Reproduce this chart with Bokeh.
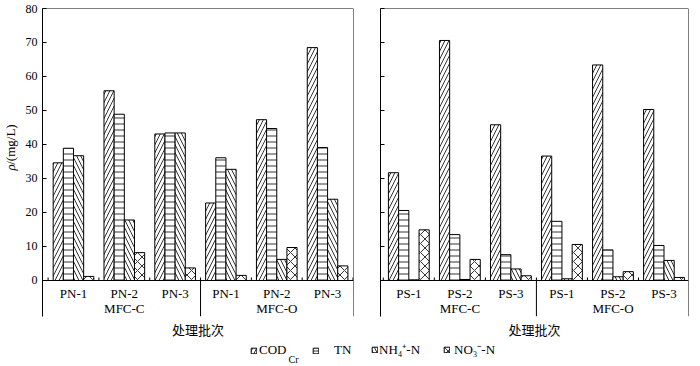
import math
from bokeh.plotting import figure
from bokeh.layouts import column, row
from bokeh.models import (Range1d, FixedTicker, Span, Label, Legend, LegendItem,
                          ColumnDataSource)
from bokeh.transform import dodge
from bokeh.core.properties import value
from bokeh.embed import file_html
from bokeh.resources import INLINE

# ---------------- data ----------------
reactors = ["MFC-C", "MFC-C", "MFC-C", "MFC-O", "MFC-O", "MFC-O"]
pn_batches = ["PN-1", "PN-2", "PN-3", "PN-1", "PN-2", "PN-3"]
ps_batches = ["PS-1", "PS-2", "PS-3", "PS-1", "PS-2", "PS-3"]

pn_cod = [34.6, 55.8, 43.1, 22.8, 47.3, 68.5]
pn_tn = [38.9, 48.9, 43.4, 36.1, 44.7, 39.1]
pn_nh4 = [36.7, 17.8, 43.4, 32.7, 6.2, 23.9]
pn_no3 = [1.2, 8.2, 3.7, 1.5, 9.7, 4.3]

ps_cod = [31.7, 70.6, 45.8, 36.6, 63.4, 50.3]
ps_tn = [20.6, 13.5, 7.6, 17.4, 9.0, 10.3]
ps_nh4 = [0.2, 0.3, 3.4, 0.5, 1.1, 5.9]
ps_no3 = [14.9, 6.2, 1.4, 10.6, 2.6, 0.9]

y_ticks = [0, 10, 20, 30, 40, 50, 60, 70, 80]
series_names = ["COD", "TN", "NH\u2084\u207A-N", "NO\u2083\u207B-N"]
y_title_sym = "ρ"
y_title_unit = "/(mg/L)"
x_title = "处理批次"

# ---------------- styles ----------------
SERIF = "Liberation Serif"
CJK = "Noto Sans CJK SC"
BAR_W = 0.2
hatch_styles = [("/", 8), ("-", 6), ("\\", 8), ("x", 9)]
TOP_H = 342
Y_MIN, Y_MAX = -10.59, 80
LABEL_Y = -3.68
GROUP_Y = -8.38
TICK_LEN = 0.88


def bar_style(k):
    pat, sc = hatch_styles[k]
    return dict(fill_color="white", line_color="black", line_width=1,
                hatch_pattern=pat, hatch_scale=sc, hatch_color="black",
                hatch_weight=0.8)


def blank_fig(w, h, yr):
    f = figure(width=w, height=h, output_backend="svg", toolbar_location=None,
               x_range=Range1d(0, w), y_range=Range1d(0, yr), min_border=0,
               x_axis_type=None, y_axis_type=None)
    f.outline_line_color = None
    f.xgrid.visible = False
    f.ygrid.visible = False
    return f


def make_panel(batches, vals, x_start, x_end, width, bl, br, left_labels):
    p = figure(width=width, height=TOP_H, output_backend="svg", toolbar_location=None,
               x_range=Range1d(x_start, x_end), y_range=Range1d(Y_MIN, Y_MAX),
               min_border_left=bl, min_border_right=br, min_border_top=8,
               min_border_bottom=TOP_H - 316)
    p.outline_line_color = None
    p.xgrid.visible = False
    p.ygrid.visible = False
    p.background_fill_color = "white"
    p.border_fill_color = "white"

    xs = [i + 1 for i in range(len(batches))]
    src = ColumnDataSource(dict(x=xs, batch=batches, s0=vals[0], s1=vals[1],
                                s2=vals[2], s3=vals[3]))
    n = len(vals)
    for k in range(n):
        off = (k - (n - 1) / 2) * BAR_W
        p.vbar(x=dodge("x", off, range=p.x_range), top="s%d" % k, width=BAR_W,
               bottom=0, source=src, **bar_style(k))

    # frame lines
    p.add_layout(Span(location=Y_MAX, dimension="width", line_color="black", line_width=1))
    p.add_layout(Span(location=0, dimension="width", line_color="black", line_width=1))
    p.add_layout(Span(location=x_end, dimension="height", line_color="black", line_width=1))

    # small ticks between batches on the zero line
    tick_x = [x - 0.5 for x in xs] + [xs[-1] + 0.5]
    p.segment(x0=tick_x, y0=[0] * len(tick_x), x1=tick_x, y1=[TICK_LEN] * len(tick_x),
              line_color="black", line_width=1)

    # batch labels
    p.text(x="x", y=LABEL_Y, text="batch", source=src, text_font=value(SERIF),
           text_font_size="13px", text_align="center", text_baseline="middle",
           text_color="black")

    # reactor group labels + separators
    groups = []
    for r in reactors:
        if r not in groups:
            groups.append(r)
    gx = []
    for g in groups:
        members = [x for x, r in zip(xs, reactors) if r == g]
        gx.append(sum(members) / len(members))
    gsrc = ColumnDataSource(dict(x=gx, name=groups))
    p.text(x="x", y=GROUP_Y, text="name", source=gsrc, text_font=value(SERIF),
           text_font_size="13px", text_align="center", text_baseline="middle",
           text_color="black")
    seps = []
    for i in range(1, len(reactors)):
        if reactors[i] != reactors[i - 1]:
            seps.append((xs[i] + xs[i - 1]) / 2)
    p.segment(x0=seps, y0=[0] * len(seps), x1=seps, y1=[Y_MIN] * len(seps),
              line_color="black", line_width=1)

    # y axis
    ax = p.yaxis[0]
    ax.ticker = FixedTicker(ticks=y_ticks)
    ax.major_tick_in = 4
    ax.major_tick_out = 0
    ax.minor_tick_line_color = None
    ax.axis_line_color = "black"
    ax.major_tick_line_color = "black"
    ax.major_label_standoff = 5
    ax.major_label_text_font = SERIF
    ax.major_label_text_font_size = "12px"
    ax.major_label_text_color = "black"
    if not left_labels:
        ax.major_label_overrides = {t: "" for t in y_ticks}

    # x axis: only its title
    xa = p.xaxis[0]
    xa.ticker = FixedTicker(ticks=[])
    xa.axis_line_color = None
    xa.major_tick_line_color = None
    xa.minor_tick_line_color = None
    xa.major_tick_in = 0
    xa.major_tick_out = 0
    xa.major_label_standoff = 0
    xa.axis_label = x_title
    xa.axis_label_text_font = CJK
    xa.axis_label_text_font_size = "13px"
    xa.axis_label_text_font_style = "normal"
    xa.axis_label_text_color = "black"
    xa.axis_label_standoff = 3
    return p


# y-axis title strip
LAB_W = 20
yl = blank_fig(LAB_W, TOP_H, TOP_H)
yl.text(x=[10], y=[TOP_H - 180], text=[y_title_sym], angle=math.pi / 2,
        text_align="left", text_baseline="middle", text_font=value(SERIF),
        text_font_style="italic", text_font_size="13px", text_color="black")
yl.text(x=[10], y=[TOP_H - 173.5], text=[y_title_unit], angle=math.pi / 2,
        text_align="left", text_baseline="middle", text_font=value(SERIF),
        text_font_size="13px", text_color="black")

left = make_panel(pn_batches, [pn_cod, pn_tn, pn_nh4, pn_no3], 0.39, 6.51,
                  366 - LAB_W, 42 - LAB_W, 13, True)
right = make_panel(ps_batches, [ps_cod, ps_tn, ps_nh4, ps_no3], 0.445, 6.48,
                   326, 14, 4, False)

# ---------------- legend ----------------
LEG_H = 365 - TOP_H
lf = blank_fig(692, LEG_H, LEG_H)
leg_x = [250, 312, 371, 443]
leg_standoff = [2, 15, 1, 4]
for k, name in enumerate(series_names):
    # placeholder renderer (outside the visible range) that only feeds the legend swatch
    r = lf.vbar(x=[-50], top=[-50], bottom=[-60], width=1, **bar_style(k))
    lg = Legend(items=[LegendItem(label=name, renderers=[r])], location=(leg_x[k], 7),
                border_line_color=None, background_fill_alpha=0, padding=0, margin=0,
                spacing=0, glyph_width=7, glyph_height=7, label_height=12,
                label_standoff=leg_standoff[k], label_text_font=SERIF,
                label_text_font_size="13px", label_text_color="black")
    lf.add_layout(lg)
lf.add_layout(Label(x=288, y=6, x_units="screen", y_units="screen", text="Cr",
                    text_font=SERIF, text_font_size="10px", text_baseline="alphabetic",
                    text_align="left", text_color="black"))

layout = column(row(yl, left, right), lf, spacing=0)
open("out.html", "w").write(file_html(layout, INLINE))
